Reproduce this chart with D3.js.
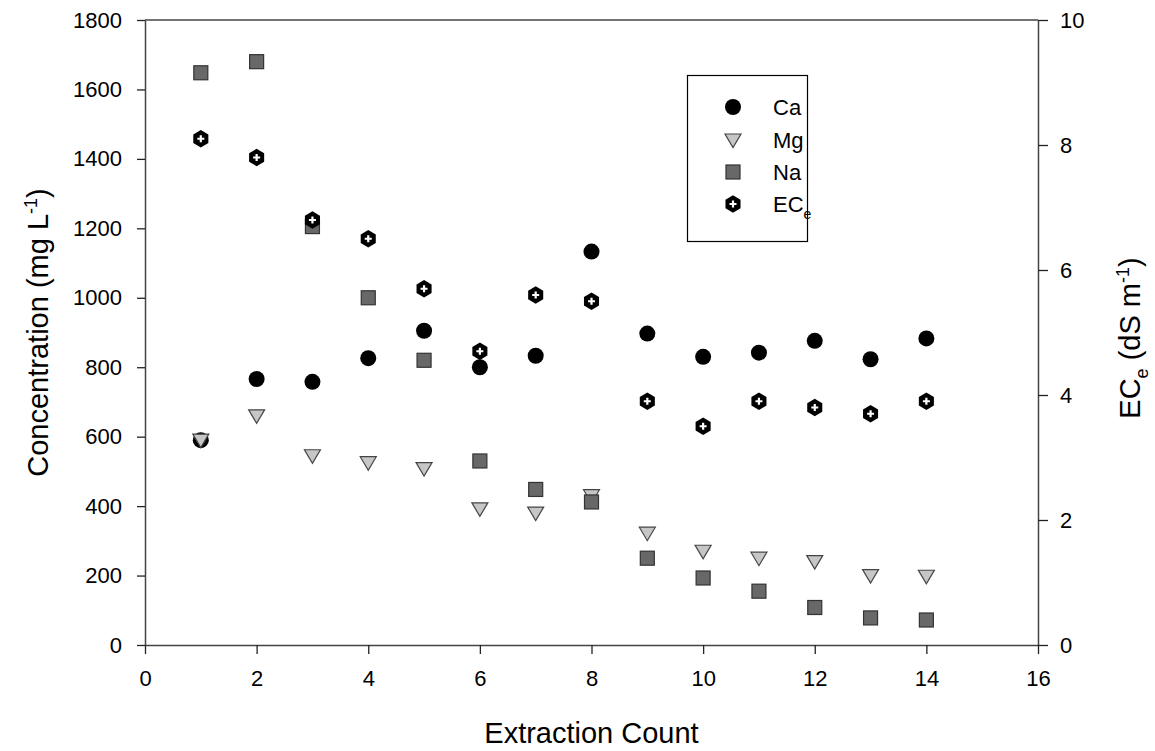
<!DOCTYPE html>
<html><head><meta charset="utf-8">
<script src="https://cdn.jsdelivr.net/npm/d3@7"></script>
<style>body{margin:0;background:#fff;} svg{display:block;font-family:"Liberation Sans",Arial,sans-serif;}</style>
</head><body>
<svg id="chart" width="1155" height="751"></svg>
<script>
const extraction = [1,2,3,4,5,6,7,8,9,10,11,12,13,14];
const ca = [590,766,758,826,905,800,833,1133,897,830,842,876,823,883];
const mg = [590,660,545,525,508,392,380,430,322,270,250,240,200,198];
const na = [1648,1680,1205,1000,820,530,448,412,250,193,155,108,78,72];
const ece = [8.1,7.8,6.8,6.5,5.7,4.7,5.6,5.5,3.9,3.5,3.9,3.8,3.7,3.9];
const xTicks = [0,2,4,6,8,10,12,14,16];
const yLeftTicks = [0,200,400,600,800,1000,1200,1400,1600,1800];
const yRightTicks = [0,2,4,6,8,10];

const svg = d3.select("#chart");
const L = 145, R = 1038, T = 20, B = 645;
const x = d3.scaleLinear().domain([0,16]).range([L,R]);
const yL = d3.scaleLinear().domain([0,1800]).range([B,T]);
const yR = d3.scaleLinear().domain([0,10]).range([B,T]);
const axisColor = "#444";

svg.append("line").attr("x1",L).attr("x2",R).attr("y1",T).attr("y2",T)
  .attr("stroke",axisColor).attr("stroke-width",1.5);

function styleAxis(g){
  g.select(".domain").attr("stroke",axisColor).attr("stroke-width",1.5);
  g.selectAll(".tick line").attr("stroke","#222").attr("stroke-width",1.3);
  g.selectAll(".tick text").attr("fill","#000").style("font-size","22px").style("font-family","'Liberation Sans',Arial,sans-serif");
}
svg.append("g").attr("transform",`translate(0,${B})`)
  .call(d3.axisBottom(x).tickValues(xTicks).tickSize(9).tickSizeOuter(0).tickPadding(16).tickFormat(d3.format("d")))
  .call(styleAxis);
svg.append("g").attr("transform",`translate(${L},0)`)
  .call(d3.axisLeft(yL).tickValues(yLeftTicks).tickSize(8).tickSizeOuter(0).tickPadding(15).tickFormat(d3.format("d")))
  .call(styleAxis);
svg.append("g").attr("transform",`translate(${R},0)`)
  .call(d3.axisRight(yR).tickValues(yRightTicks).tickSize(10).tickSizeOuter(0).tickPadding(12).tickFormat(d3.format("d")))
  .call(styleAxis);

svg.append("text").attr("x",(L+R)/2).attr("y",743).attr("text-anchor","middle")
  .style("font-size","29px").text("Extraction Count");
const lt = svg.append("text").attr("transform",`translate(48,${(T+B)/2}) rotate(-90)`)
  .attr("text-anchor","middle").style("font-size","29px");
lt.append("tspan").text("Concentration (mg L");
lt.append("tspan").attr("dy",-11).style("font-size","18px").text("-1");
lt.append("tspan").attr("dy",11).text(")");
const rt = svg.append("text").attr("transform",`translate(1140,338) rotate(-90)`)
  .attr("text-anchor","middle").style("font-size","29px");
rt.append("tspan").text("EC");
rt.append("tspan").attr("dy",8).style("font-size","18px").text("e");
rt.append("tspan").attr("dy",-8).text(" (dS m");
rt.append("tspan").attr("dy",-11).style("font-size","18px").text("-1");
rt.append("tspan").attr("dy",11).text(")");

function circleM(g,cx,cy){ g.append("circle").attr("cx",cx).attr("cy",cy).attr("r",8).attr("fill","#000"); }
function triM(g,cx,cy){
  const w=8, h=13;
  g.append("path").attr("d",`M${cx-w},${cy-h/2+0.5} L${cx+w},${cy-h/2+0.5} L${cx},${cy+h/2+1} Z`)
    .attr("fill","#c6c6c6").attr("stroke","#444").attr("stroke-width",1.2);
}
function sqM(g,cx,cy){
  g.append("rect").attr("x",cx-7).attr("y",cy-7).attr("width",14).attr("height",14)
    .attr("fill","#686868").attr("stroke","#333").attr("stroke-width",1.2);
}
function hexM(g,cx,cy){
  const r=8.7;
  const pts=d3.range(6).map(i=>{const a=Math.PI/6+i*Math.PI/3; return [cx+r*Math.cos(a), cy+r*Math.sin(a)];});
  g.append("path").attr("d","M"+pts.map(p=>p.join(",")).join("L")+"Z").attr("fill","#000");
  g.append("path").attr("d",`M${cx-3.5},${cy}L${cx+3.5},${cy}M${cx},${cy-3.5}L${cx},${cy+3.5}`)
    .attr("stroke","#fff").attr("stroke-width",2.2);
}

const gCa = svg.append("g"), gMg = svg.append("g"), gNa = svg.append("g"), gEc = svg.append("g");
extraction.forEach((e,i)=>circleM(gCa,x(e),yL(ca[i])));
extraction.forEach((e,i)=>triM(gMg,x(e),yL(mg[i])));
extraction.forEach((e,i)=>sqM(gNa,x(e),yL(na[i])));
extraction.forEach((e,i)=>hexM(gEc,x(e),yR(ece[i])));

const lg = svg.append("g");
lg.append("rect").attr("x",687.5).attr("y",75.5).attr("width",120).attr("height",166)
  .attr("fill","#fff").attr("stroke","#000").attr("stroke-width",1.2);
const legendRows = [
  {name:"Ca", draw:circleM, y:107},
  {name:"Mg", draw:triM, y:140},
  {name:"Na", draw:sqM, y:172},
  {name:"EC", sub:"e", draw:hexM, y:204}
];
legendRows.forEach(r=>{
  r.draw(lg,733,r.y);
  const t = lg.append("text").attr("x",773).attr("y",r.y+8).style("font-size","22px").text(r.name);
  if(r.sub) t.append("tspan").attr("dy",7).style("font-size","14px").text(r.sub);
});
</script>
</body></html>
